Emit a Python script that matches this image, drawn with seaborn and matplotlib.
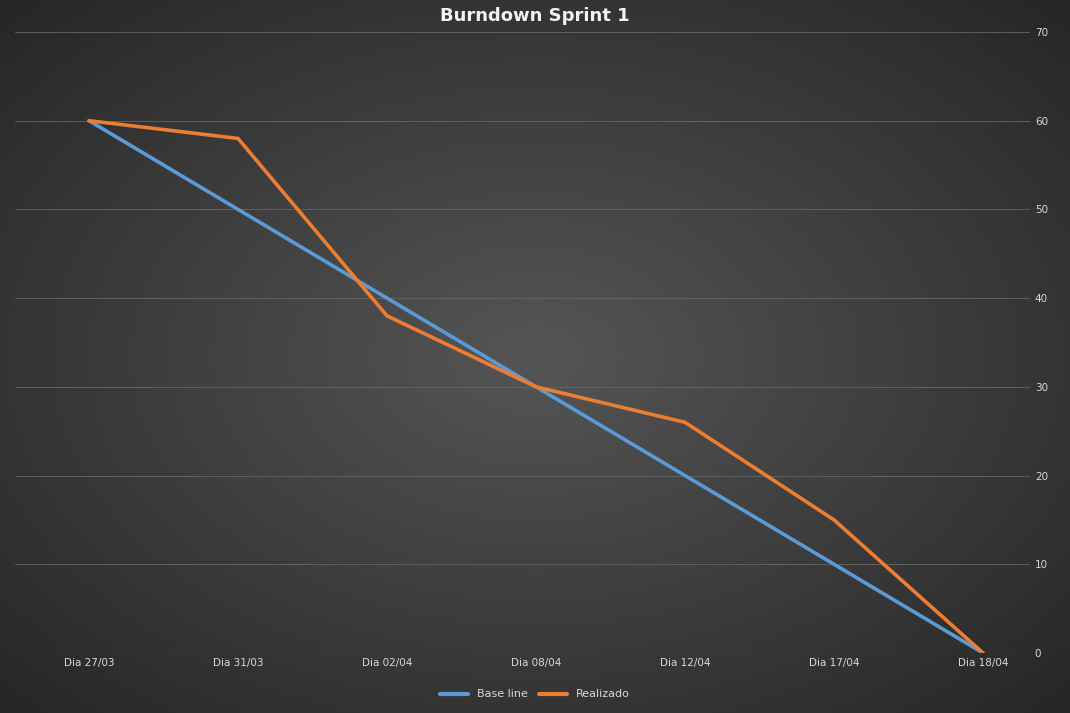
import numpy as np
import pandas as pd
import matplotlib.pyplot as plt
import seaborn as sns
from matplotlib.lines import Line2D

dias = ["Dia 27/03", "Dia 31/03", "Dia 02/04", "Dia 08/04", "Dia 12/04", "Dia 17/04", "Dia 18/04"]
base_line = [60, 50, 40, 30, 20, 10, 0]
realizado = [60, 58, 38, 30, 26, 15, 0]

df = pd.DataFrame({"dia": dias * 2,
                   "valor": base_line + realizado,
                   "serie": ["Base line"] * 7 + ["Realizado"] * 7})

sns.set_style("dark")
plt.rcParams["font.family"] = ["DejaVu Sans"]

fig = plt.figure(figsize=(10.70, 7.13), dpi=100)

# radial gradient background
bg = fig.add_axes([0, 0, 1, 1], zorder=-10)
yy, xx = np.mgrid[-1:1:300j, -1:1:450j]
r = np.sqrt(xx**2 + yy**2) / np.sqrt(2)
bg.imshow(r, cmap=sns.blend_palette(["#555555", "#262626"], as_cmap=True),
          aspect="auto", extent=[0, 1, 0, 1])
bg.axis("off")

ax = fig.add_axes([15 / 1070, 60 / 713, 1015 / 1070, 621 / 713])
ax.patch.set_alpha(0)
sns.lineplot(data=df, x="dia", y="valor", hue="serie", sort=False,
             palette={"Base line": "#5b9bd5", "Realizado": "#ed7d31"},
             linewidth=2.6, ax=ax, legend=False)

ax.set_xlim(-0.497, 6.315)
ax.set_ylim(0, 70)
ax.set_yticks(range(0, 71, 10))
ax.yaxis.tick_right()
ax.grid(axis="y", color="#666666", linewidth=0.6)
ax.grid(axis="x", visible=False)
ax.tick_params(colors="#d9d9d9", labelsize=7.5, length=0)
ax.set_xlabel("")
ax.set_ylabel("")
for s in ax.spines.values():
    s.set_visible(False)
ax.axhline(0, color="#6e6e6e", linewidth=0.8)

fig.text(0.5, 0.977, "Burndown Sprint 1", ha="center", va="center",
         color="#f2f2f2", fontsize=13, fontweight="bold")

handles = [Line2D([], [], color="#5b9bd5", lw=3), Line2D([], [], color="#ed7d31", lw=3)]
fig.legend(handles, ["Base line", "Realizado"], loc="center", bbox_to_anchor=(0.5, 0.026),
           ncol=2, frameon=False, fontsize=8, labelcolor="#d9d9d9",
           handlelength=2.5, columnspacing=1)

fig.savefig("out.png", dpi=100)
